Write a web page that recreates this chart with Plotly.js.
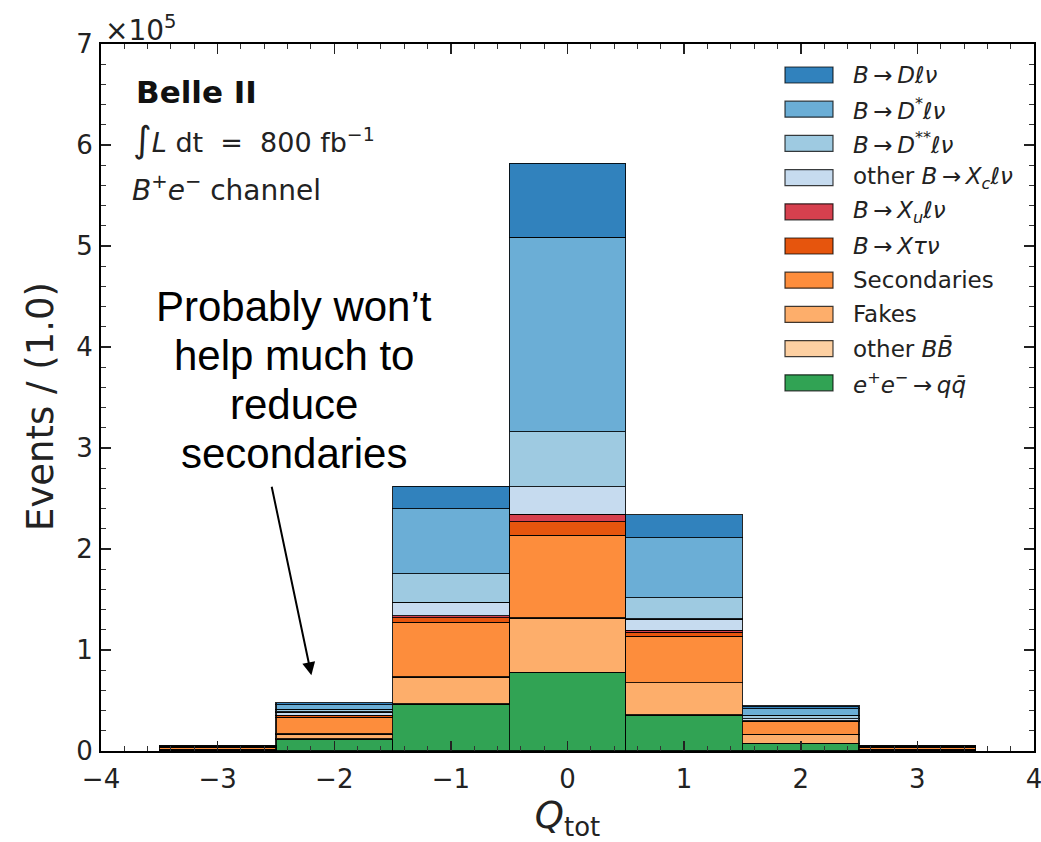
<!DOCTYPE html>
<html>
<head>
<meta charset="utf-8">
<script src="https://cdn.plot.ly/plotly-3.0.1.min.js"></script>
<style>body{margin:0;padding:0;background:#fff;} #plot{width:1041px;height:842px;}</style>
</head>
<body>
<div id="plot"></div>
<script>
// Bin centres of Q_tot
const qtot = [-3, -2, -1, 0, 1, 2, 3];

// Component yields per bin (units of 10^5 events)
const dlnu      = [0.002, 0.020, 0.222, 0.733, 0.228, 0.027, 0.002];
const dstarlnu  = [0.004, 0.046, 0.643, 1.925, 0.594, 0.066, 0.004];
const dsslnu    = [0.003, 0.027, 0.284, 0.544, 0.211, 0.033, 0.003];
const otherXc   = [0.003, 0.033, 0.132, 0.273, 0.112, 0.020, 0.003];
const xulnu     = [0.001, 0.005, 0.020, 0.072, 0.020, 0.003, 0.001];
const xtaunu    = [0.005, 0.015, 0.046, 0.135, 0.039, 0.007, 0.005];
const secondaries = [0.015, 0.165, 0.541, 0.820, 0.460, 0.125, 0.016];
const fakes     = [0.008, 0.047, 0.266, 0.537, 0.318, 0.088, 0.009];
const otherBB   = [0.002, 0.005, 0.005, 0.005, 0.005, 0.005, 0.002];
const qqbar     = [0.008, 0.116, 0.462, 0.775, 0.353, 0.072, 0.007];

// Legend labels (top to bottom)
const labels = [
  '<i>B</i>\u2009→\u2009<i>Dℓν</i>',
  '<i>B</i>\u2009→\u2009<i>D</i><sup>*</sup><i>ℓν</i>',
  '<i>B</i>\u2009→\u2009<i>D</i><sup>**</sup><i>ℓν</i>',
  'other <i>B</i>\u2009→\u2009<i>X</i><sub><i>c</i></sub><i>ℓν</i>',
  '<i>B</i>\u2009→\u2009<i>X</i><sub><i>u</i></sub><i>ℓν</i>',
  '<i>B</i>\u2009→\u2009<i>Xτν</i>',
  'Secondaries',
  'Fakes',
  'other <i>BB̄</i>',
  '<i>e</i><sup>+</sup><i>e</i><sup>−</sup>\u2009→\u2009<i>qq̄</i>'
];
const series = [dlnu, dstarlnu, dsslnu, otherXc, xulnu, xtaunu, secondaries, fakes, otherBB, qqbar];
const colors = ['#3182bd','#6baed6','#9ecae1','#c6dbef','#d6404e','#e6550d','#fd8d3c','#fdae6b','#fdd0a2','#31a354'];

const yTickLabels = ['0','1','2','3','4','5','6','7'];
const xTickLabels = ['−4','−3','−2','−1','0','1','2','3','4'];
const noteLines = ['Probably won’t', 'help much to', 'reduce', 'secondaries'];

const traces = [];
for (let i = series.length - 1; i >= 0; i--) {
  traces.push({
    type: 'bar',
    x: qtot,
    y: series[i],
    width: 1,
    name: labels[i],
    marker: {color: colors[i], line: {color: 'rgba(0,0,0,0.85)', width: 1.2}},
    showlegend: false,
    hoverinfo: 'skip'
  });
}

// plot area geometry in px (for paper-coord placement of decorations)
const L = 101, R = 1034, T = 44, B = 751;
const W = R - L, H = B - T;
const px2x = p => (p - L) / W;
const px2y = p => (B - p) / H;

const shapes = [];
const annotations = [];

// custom legend
for (let i = 0; i < labels.length; i++) {
  const yc = 75 + i * 34.2;
  shapes.push({
    type: 'rect', xref: 'paper', yref: 'paper',
    x0: px2x(785), x1: px2x(833), y0: px2y(yc + 8), y1: px2y(yc - 8),
    fillcolor: colors[i], line: {color: 'rgba(0,0,0,0.75)', width: 1.2}
  });
  annotations.push({
    xref: 'paper', yref: 'paper', x: px2x(851), y: px2y(yc),
    xanchor: 'left', yanchor: 'middle', showarrow: false,
    text: labels[i], font: {family: 'DejaVu Sans', size: 23, color: '#222'}
  });
}

// Belle II labels
annotations.push({xref:'paper', yref:'paper', x: px2x(134), y: px2y(92), xanchor:'left', yanchor:'middle', showarrow:false,
  text:'<b>Belle II</b>', font:{family:'DejaVu Sans', size:31, color:'#111'}});
annotations.push({xref:'paper', yref:'paper', x: px2x(131), y: px2y(139), xanchor:'left', yanchor:'middle', showarrow:false,
  text:'<span style="font-size:36px">∫</span><i>L</i> dt  =  800 fb<sup>−1</sup>', font:{family:'DejaVu Sans', size:27, color:'#222'}});
annotations.push({xref:'paper', yref:'paper', x: px2x(130), y: px2y(188), xanchor:'left', yanchor:'middle', showarrow:false,
  text:'<i>B</i><sup>+</sup><i>e</i><sup>−</sup> channel', font:{family:'DejaVu Sans', size:28, color:'#222'}});

// ×10^5
annotations.push({xref:'paper', yref:'paper', x: px2x(103), y: px2y(28), xanchor:'left', yanchor:'middle', showarrow:false,
  text:'×10<sup>5</sup>', font:{family:'DejaVu Sans', size:28, color:'#222'}});

// y-axis title
annotations.push({xref:'paper', yref:'paper', x: px2x(40), y: px2y(407), xanchor:'center', yanchor:'middle', showarrow:false,
  textangle: -90, text:'Events / (1.0)', font:{family:'DejaVu Sans', size:37, color:'#222'}});

// note text
for (let i = 0; i < noteLines.length; i++) {
  annotations.push({xref:'paper', yref:'paper', x: px2x(294), y: px2y(306 + i * 49.2), xanchor:'center', yanchor:'middle', showarrow:false,
    text: noteLines[i], font:{family:'Liberation Sans', size:42, color:'#000'}});
}
// arrow
annotations.push({x: -2.196, y: 0.75, xref:'x', yref:'y', text:'', showarrow:true,
  ax: -40, ay: -190, arrowhead: 2, arrowsize: 1.3, arrowwidth: 2, arrowcolor:'#000'});

const axisCommon = {
  showline: true, linecolor: '#000', linewidth: 2, mirror: 'allticks',
  ticks: 'inside', ticklen: 10, tickwidth: 1.5, tickcolor: '#222',
  showgrid: false, zeroline: false,
  tickfont: {family: 'DejaVu Sans', size: 26, color: '#222'},
  ticklabeloverflow: 'allow',
  minor: {ticks: 'inside', ticklen: 5, tickwidth: 1, tickcolor: '#333', dtick: 0.2, showgrid: false}
};

const layout = {
  width: 1041, height: 842,
  margin: {l: L, r: 1041 - R, t: T, b: 842 - B},
  paper_bgcolor: '#fff', plot_bgcolor: '#fff',
  barmode: 'stack', bargap: 0,
  showlegend: false,
  xaxis: Object.assign({}, axisCommon, {
    range: [-4, 4], tickmode: 'array', tickvals: [-4,-3,-2,-1,0,1,2,3,4], ticktext: xTickLabels,
    ticklabelstandoff: 4,
    title: {text: '<i>Q</i><sub>tot</sub>', font: {family: 'DejaVu Sans', size: 37, color: '#222'}, standoff: 6}
  }),
  yaxis: Object.assign({}, axisCommon, {
    range: [0, 7], tickmode: 'array', tickvals: [0,1,2,3,4,5,6,7], ticktext: yTickLabels,
    ticklabelstandoff: 1
  }),
  shapes: shapes,
  annotations: annotations
};

Plotly.newPlot('plot', traces, layout, {displayModeBar: false, staticPlot: true});
</script>
</body>
</html>
